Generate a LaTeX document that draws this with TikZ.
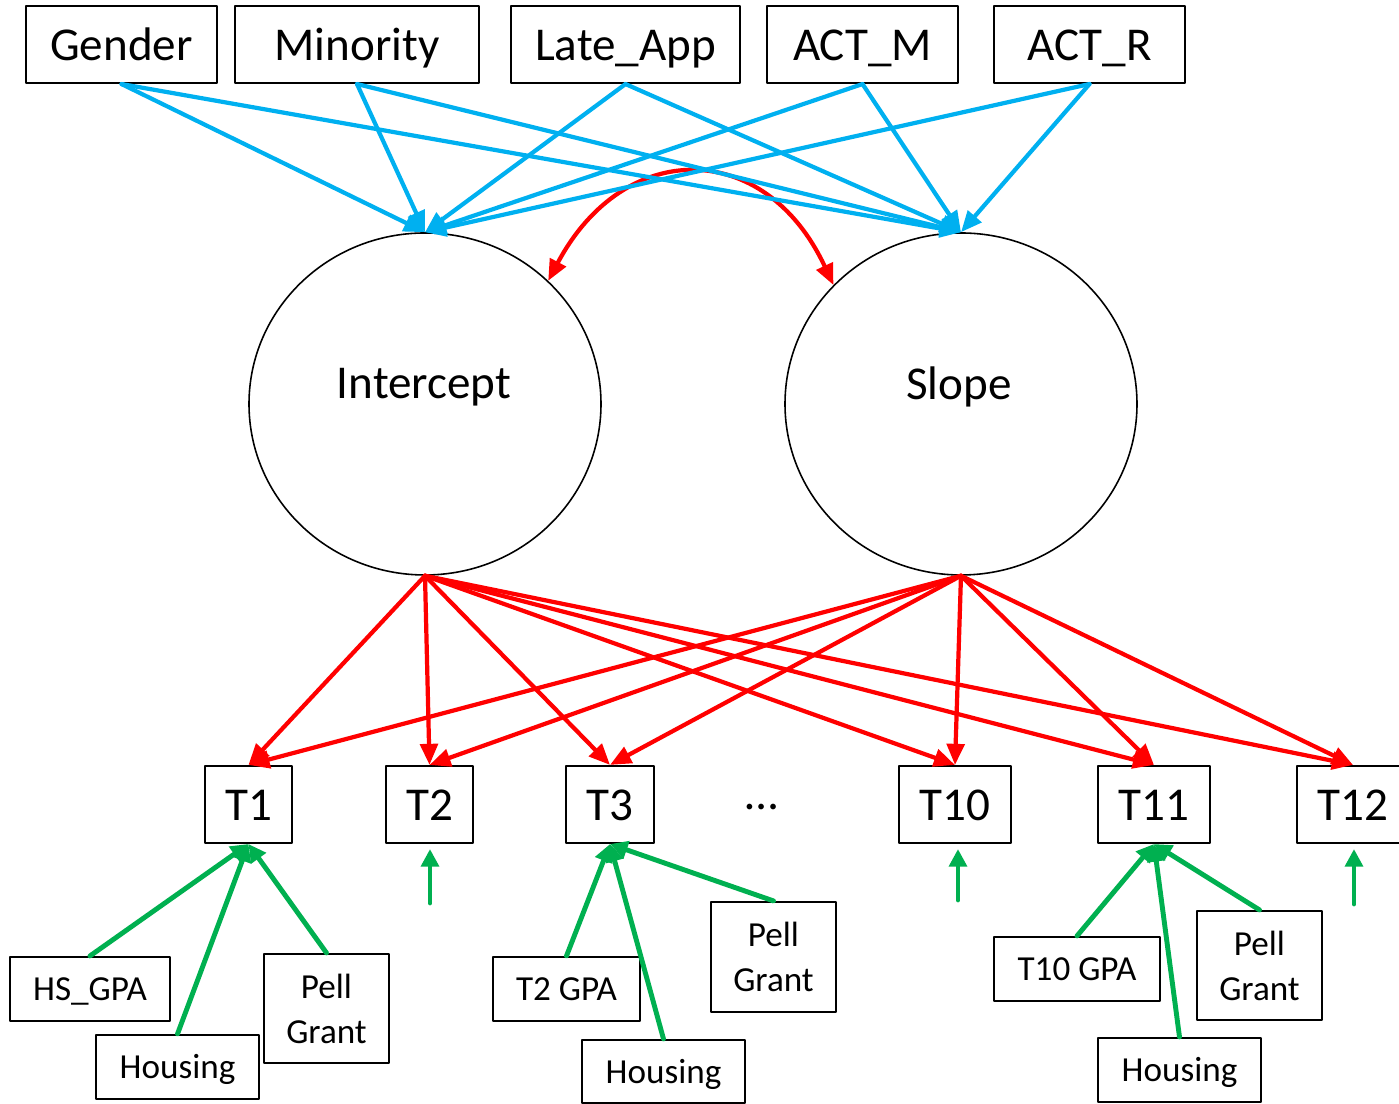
\documentclass[tikz,border=0pt]{standalone}
\usepackage{fontspec}
\setmainfont{Carlito}
\usetikzlibrary{arrows.meta,shapes.geometric}
\definecolor{predblue}{RGB}{0,176,240}
\definecolor{loadred}{RGB}{255,0,0}
\definecolor{covgreen}{RGB}{0,176,80}

\begin{document}
\begin{tikzpicture}[line cap=round, line join=round,
    box/.style={draw, line width=0.6pt, inner sep=0pt, minimum height=0.77cm,
        text height=0.42cm, text depth=0.09cm, font=\fontsize{13.4}{16}\selectfont},
    smallbox/.style={draw, line width=0.6pt, inner sep=0pt, align=center,
        font=\fontsize{10}{12.8}\selectfont},
    oneline/.style={text height=0.30cm, text depth=0.066cm},
    latent/.style={draw, ellipse, line width=0.45pt, inner sep=0pt,
        minimum width=3.52cm, minimum height=3.42cm},
    bigtext/.style={font=\fontsize{13.4}{16}\selectfont},
    pred/.style={draw=predblue, line width=1.2pt, -{Triangle[length=6pt,width=5pt]}},
    load/.style={draw=loadred, line width=1.2pt, -{Triangle[length=6pt,width=5pt]}},
    cov/.style={draw=loadred, line width=1.2pt, {Triangle[length=6pt,width=5pt]}-{Triangle[length=6pt,width=5pt]}},
    tvc/.style={draw=covgreen, line width=1.4pt, -{Triangle[length=5pt,width=5pt]}}]

    \useasboundingbox (0,0) rectangle (13.99,-11.04);

    % Covariate in alto
    \node[box, minimum width=1.91cm] (gender)   at (1.215,-0.445) {Gender};
    \node[box, minimum width=2.44cm] (minority) at (3.57,-0.445)  {Minority};
    \node[box, minimum width=2.29cm] (lateapp)  at (6.255,-0.445) {Late\_App};
    \node[box, minimum width=1.91cm] (actm)     at (8.625,-0.445) {ACT\_M};
    \node[box, minimum width=1.91cm] (actr)     at (10.895,-0.445) {ACT\_R};

    % Fattori latenti
    \node[latent] (icpt)  at (4.25,-4.04) {};
    \node[latent] (slope) at (9.61,-4.04) {};
    \node[bigtext] (icpttxt)  at (4.24,-3.87) {Intercept};
    \node[bigtext] (slopetxt) at (9.59,-3.87) {Slope};

    % Covarianza tra i fattori
    \draw[cov] (icpt.45) to[out=62, in=115, looseness=1.45] (slope.137);

    % Frecce dalle covariate
    \draw[pred] (gender.south)   -- (icpt.north);
    \draw[pred] (gender.south)   -- (slope.north);
    \draw[pred] (minority.south) -- (icpt.north);
    \draw[pred] (minority.south) -- (slope.north);
    \draw[pred] (lateapp.south)  -- (icpt.north);
    \draw[pred] (lateapp.south)  -- (slope.north);
    \draw[pred] (actm.south)     -- (icpt.north);
    \draw[pred] (actm.south)     -- (slope.north);
    \draw[pred] (actr.south)     -- (icpt.north);
    \draw[pred] (actr.south)     -- (slope.north);

    % Misure ripetute
    \node[box, minimum width=0.87cm] (t1)  at (2.485,-8.045) {T1};
    \node[box, minimum width=0.87cm] (t2)  at (4.295,-8.045) {T2};
    \node[box, minimum width=0.88cm] (t3)  at (6.10,-8.045)  {T3};
    \node[bigtext] (dots) at (7.62,-8.07) {\dots};
    \node[box, minimum width=1.12cm] (t10) at (9.55,-8.045)  {T10};
    \node[box, minimum width=1.12cm] (t11) at (11.54,-8.045) {T11};
    \node[box, minimum width=1.12cm] (t12) at (13.53,-8.045) {T12};

    % Saturazioni
    \draw[load] (icpt.south)  -- (t1.north);
    \draw[load] (icpt.south)  -- (t2.north);
    \draw[load] (icpt.south)  -- (t3.north);
    \draw[load] (icpt.south)  -- (t10.north);
    \draw[load] (icpt.south)  -- (t11.north);
    \draw[load] (icpt.south)  -- (t12.north);
    \draw[load] (slope.south) -- (t1.north);
    \draw[load] (slope.south) -- (t2.north);
    \draw[load] (slope.south) -- (t3.north);
    \draw[load] (slope.south) -- (t10.north);
    \draw[load] (slope.south) -- (t11.north);
    \draw[load] (slope.south) -- (t12.north);

    % Covariate tempo-varianti
    \node[smallbox, oneline, minimum width=1.60cm, minimum height=0.64cm] (hsgpa)  at (0.90,-9.89)   {HS\_GPA};
    \node[smallbox, oneline, minimum width=1.63cm, minimum height=0.64cm] (hous1)  at (1.775,-10.67) {Housing};
    \node[smallbox, minimum width=1.25cm, minimum height=1.09cm] (pell1)  at (3.265,-10.085) {Pell\\Grant};
    \node[smallbox, oneline, minimum width=1.47cm, minimum height=0.64cm] (t2gpa)  at (5.665,-9.89)  {T2 GPA};
    \node[smallbox, oneline, minimum width=1.63cm, minimum height=0.63cm] (hous3)  at (6.635,-10.715) {Housing};
    \node[smallbox, minimum width=1.25cm, minimum height=1.10cm] (pell3)  at (7.735,-9.57)  {Pell\\Grant};
    \node[smallbox, oneline, minimum width=1.66cm, minimum height=0.64cm] (t10gpa) at (10.77,-9.69)  {T10 GPA};
    \node[smallbox, oneline, minimum width=1.63cm, minimum height=0.64cm] (hous11) at (11.795,-10.70) {Housing};
    \node[smallbox, minimum width=1.25cm, minimum height=1.09cm] (pell11) at (12.595,-9.655) {Pell\\Grant};

    \draw[tvc] (hsgpa.north)  -- (t1.south);
    \draw[tvc] (hous1.north)  -- (t1.south);
    \draw[tvc] (pell1.north)  -- (t1.south);
    \draw[tvc] (t2gpa.north)  -- (t3.south);
    \draw[tvc] (hous3.north)  -- (t3.south);
    \draw[tvc] (pell3.north)  -- (t3.south);
    \draw[tvc] (t10gpa.north) -- (t11.south);
    \draw[tvc] (hous11.north) -- (t11.south);
    \draw[tvc] (pell11.north) -- (t11.south);

    % Frecce libere
    \coordinate (e2)  at (4.30,-9.03);
    \coordinate (e10) at (9.58,-9.00);
    \coordinate (e12) at (13.54,-9.04);
    \draw[tvc, shorten >=0.05cm] (e2)  -- (e2 |- t2.south);
    \draw[tvc, shorten >=0.05cm] (e10) -- (e10 |- t10.south);
    \draw[tvc, shorten >=0.05cm] (e12) -- (e12 |- t12.south);

\end{tikzpicture}
\end{document}
